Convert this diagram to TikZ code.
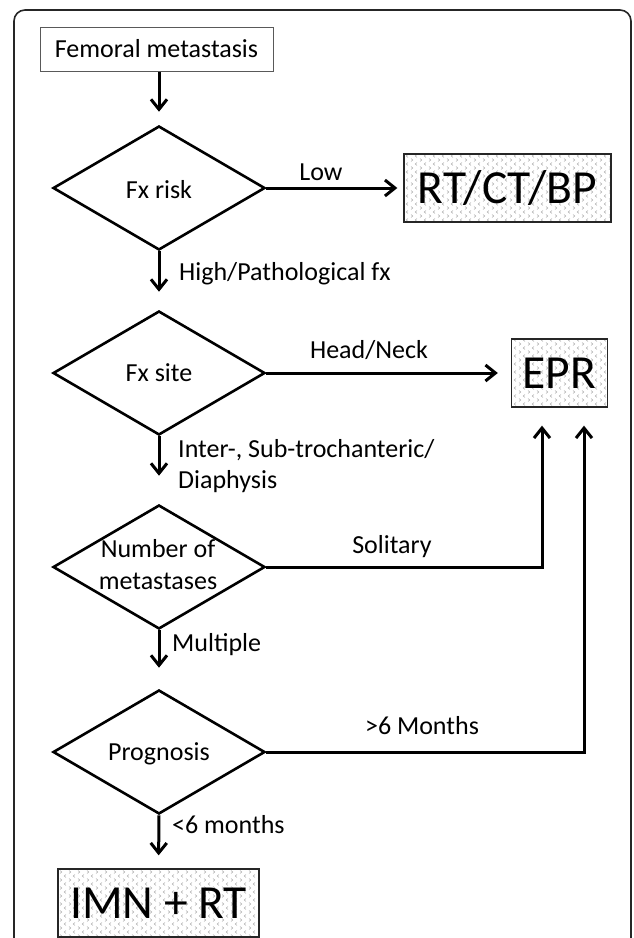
\documentclass[tikz,border=0pt]{standalone}
\usepackage{fontspec}
\setmainfont{Carlito}
\usetikzlibrary{shapes.geometric,arrows.meta,patterns}
\pgfdeclarepatternformonly{chevdots}{\pgfqpoint{-1pt}{-1pt}}{\pgfqpoint{10pt}{9pt}}{\pgfqpoint{9pt}{8pt}}{%
  \pgfsetlinewidth{0.4pt}%
  \pgfpathmoveto{\pgfqpoint{3pt}{7.4pt}}\pgfpathlineto{\pgfqpoint{1.2pt}{6pt}}\pgfpathlineto{\pgfqpoint{3pt}{4.6pt}}%
  \pgfpathmoveto{\pgfqpoint{6pt}{3.4pt}}\pgfpathlineto{\pgfqpoint{7.8pt}{2pt}}\pgfpathlineto{\pgfqpoint{6pt}{0.6pt}}%
  \pgfusepath{stroke}%
}
\begin{document}
\begin{tikzpicture}[x=1pt,y=-1pt,
  txt/.style={font=\fontsize{26}{32}\selectfont, inner sep=0pt},
  bigtxt/.style={font=\fontsize{47.5}{54}\selectfont, text height=30.6pt, text depth=0pt, inner sep=0pt},
  startbox/.style={draw=gray!70!black, line width=1pt, minimum width=233pt, minimum height=44pt,
    font=\fontsize{26}{32}\selectfont, text height=16.7pt, text depth=0pt, inner sep=0pt},
  endbox/.style={bigtxt, draw=black!85, line width=1.3pt, pattern=chevdots, pattern color=gray!80, minimum height=68pt},
  dia/.style={diamond, draw=black, line width=2.6pt, minimum width=212pt, minimum height=124pt, inner sep=0pt},
  arr/.style={line width=3pt, -{Straight Barb[length=10pt,width=16pt]}},
  frame/.style={draw=black!85, line width=1.6pt, rounded corners=11pt}
]
\useasboundingbox (0,0) rectangle (633,938);
\clip (0,0) rectangle (633,938);
\draw[frame] (14,1000) |- (631,10) -- (631,1000);

% nodes
\node[startbox] (fem) at (156.5,49) {Femoral metastasis};
\node[dia] (d1) at (159,188) {};
\node[dia] (d2) at (159,373) {};
\node[dia] (d3) at (159,567) {};
\node[dia] (d4) at (159,752) {};
\node[txt, anchor=base] (t1) at (159,198) {Fx risk};
\node[txt, anchor=base] (t2) at (159,381) {Fx site};
\node[txt, align=center] (t3) at (158,565) {Number of\\metastases};
\node[txt, anchor=base] (t4) at (159,760) {Prognosis};

\node[endbox, minimum width=207pt] (rt) at (507.5,188) {RT/CT/BP};
\node[endbox, minimum width=96pt] (epr) at (559.5,373) {EPR};
\node[endbox, minimum width=201pt] (imn) at (158.5,903) {IMN + RT};

% connectors
\draw[arr, shorten >=13pt] (fem.south -| d1.north) -- (d1.north);
\draw[arr, shorten >=6pt] (d1.east) -- (d1.east -| rt.west);
\draw[arr, shorten >=18pt] (d1.south) -- (d2.north);
\draw[arr, shorten >=13pt] (d2.east) -- (d2.east -| epr.west);
\draw[arr, shorten >=28pt] (d2.south) -- (d3.north);
\draw[arr, shorten >=18pt] (d3.east) -| ([xshift=-17.5pt]epr.south);
\draw[arr, shorten >=21pt] (d3.south) -- (d4.north);
\draw[arr, shorten >=18pt] (d4.east) -| ([xshift=24.5pt]epr.south);
\draw[arr, shorten >=13pt] (d4.south) -- (imn.north);

% labels
\node[txt, anchor=base] (lLow) at (321,180) {Low};
\node[txt, anchor=base west] (lHigh) at (179,280) {High/Pathological fx};
\node[txt, anchor=base] (lHead) at (369,358) {Head/Neck};
\node[txt, anchor=base west] (lInter) at (178,457) {Inter-, Sub-trochanteric/};
\node[txt, anchor=base west] (lDia) at (178,488) {Diaphysis};
\node[txt, anchor=base] (lSol) at (392,553) {Solitary};
\node[txt, anchor=base west] (lMul) at (172,651) {Multiple};
\node[txt, anchor=base] (lGt) at (422,734) {>6 Months};
\node[txt, anchor=base west] (lLt) at (172,833) {<6 months};
\end{tikzpicture}
\end{document}
